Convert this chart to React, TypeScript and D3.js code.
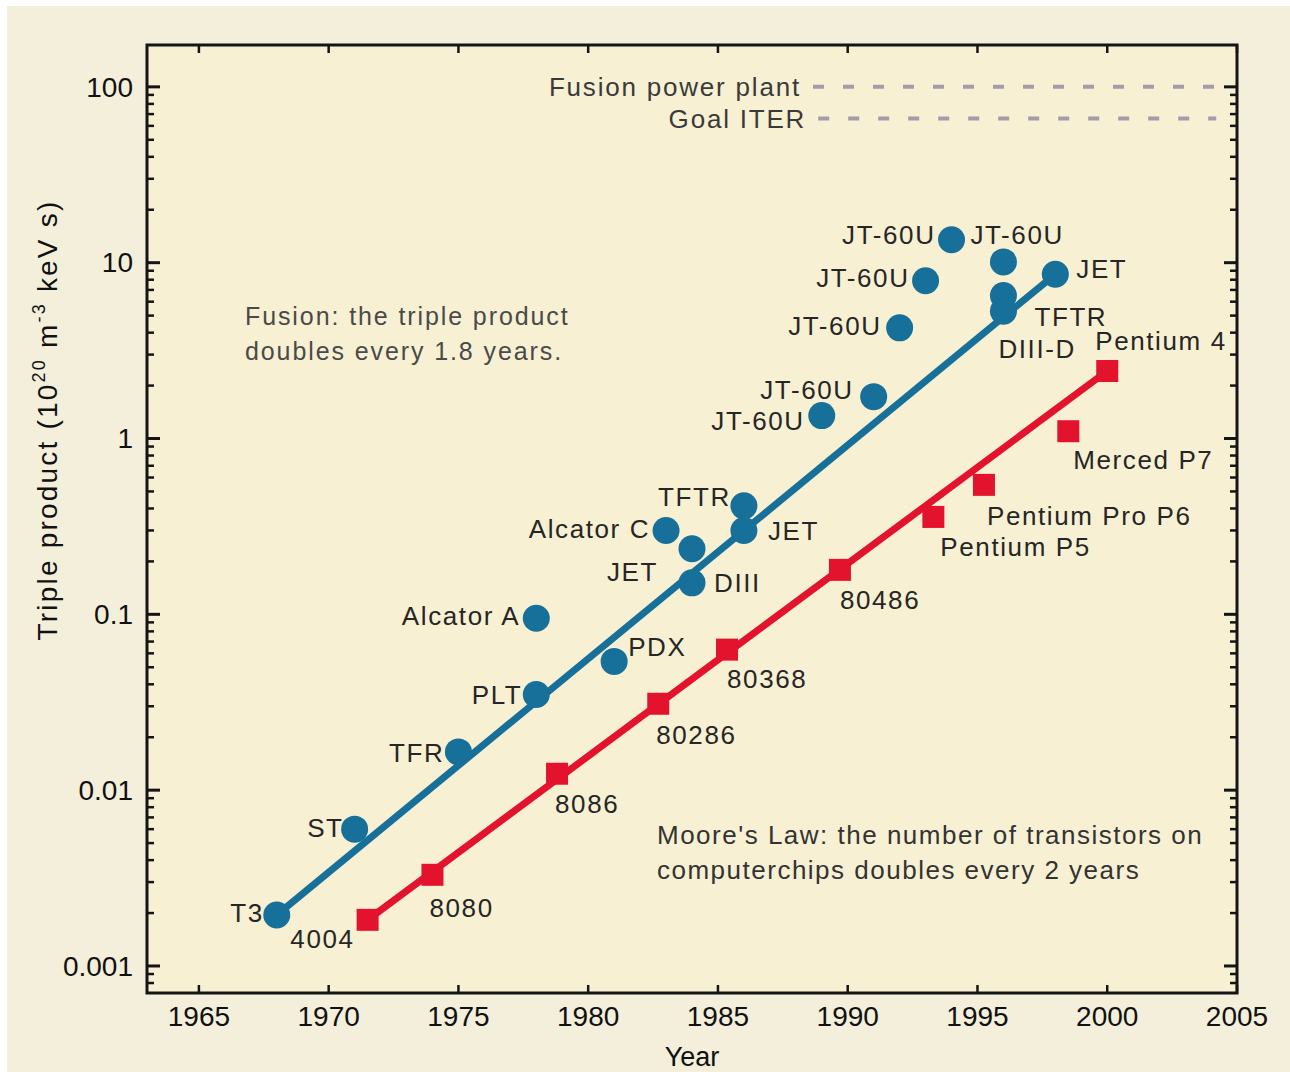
import * as d3 from 'd3';

// Fusion experiments (blue circles)
const fusionNames = ['T3', 'ST', 'TFR', 'PLT', 'Alcator A', 'PDX', 'Alcator C', 'JET', 'DIII', 'TFTR', 'JET',
  'JT-60U', 'JT-60U', 'JT-60U', 'JT-60U', 'JT-60U', 'JT-60U', 'TFTR', 'DIII-D', 'JET'];
const fusionYears = [1968, 1971, 1975, 1978, 1978, 1981, 1983, 1984, 1984, 1986, 1986,
  1989, 1991, 1992, 1993, 1994, 1996, 1996, 1996, 1998];
const fusionValues = [0.00195, 0.006, 0.0165, 0.035, 0.095, 0.054, 0.30, 0.236, 0.151, 0.414, 0.30,
  1.35, 1.73, 4.26, 7.9, 13.5, 10.1, 6.5, 5.3, 8.6];

// Intel processors (red squares); "80368" is written as in the source
const chipNames = ['4004', '8080', '8086', '80286', '80368', '80486', 'Pentium P5', 'Pentium Pro P6', 'Merced P7', 'Pentium 4'];
const chipYears = [1971.5, 1974, 1978.8, 1982.7, 1985.35, 1989.7, 1993.3, 1995.25, 1998.5, 2000];
const chipValues = [0.00183, 0.0033, 0.0124, 0.031, 0.063, 0.179, 0.358, 0.545, 1.1, 2.42];

const goalNames = ['Fusion power plant', 'Goal ITER'];
const goalValues = [100, 66];

const xTicks = [1965, 1970, 1975, 1980, 1985, 1990, 1995, 2000, 2005];
const yTicks = [0.001, 0.01, 0.1, 1, 10, 100];
const yTickLabels = ['0.001', '0.01', '0.1', '1', '10', '100'];

// label placement relative to the marker: [anchor, dx, dy]
const fusionLabelPos: [string, number, number][] = [
  ['end', -13, -2], ['end', -11, -1], ['end', -14, 1], ['end', -14, 0], ['end', -16, -2],
  ['start', 14, -14], ['end', -16, -2], ['end', -34, 23], ['start', 22, 0], ['end', -13, -9],
  ['start', 24, 0], ['end', -17, 5], ['end', -20, -7], ['end', -18, -2], ['end', -16, -3],
  ['end', -16, -5], ['start', -33, -27], ['start', 31, 21], ['start', -5, 38], ['start', 21, -5],
];
const chipLabelPos: [string, number, number][] = [
  ['end', -13, 19], ['start', -3, 33], ['start', -2, 30], ['start', -2, 31], ['start', 0, 29],
  ['start', 0, 30], ['start', 7, 30], ['start', 3, 31], ['start', 5, 29], ['start', -12, -30],
];

const W = 1290;
const H = 1072;
const left = 147, right = 1237, top = 45, bottom = 993;
const FONT = '"Liberation Sans", Arial, Helvetica, sans-serif';
const BLUE = '#17709a';
const RED = '#e3132d';
const TEXT = '#262626';

export default function App() {
  const x = d3.scaleLinear().domain([1963, 2005]).range([left, right]);
  const y = d3.scaleLog().domain([0.000702, 173]).range([bottom, top]);

  const minorTicks: number[] = [];
  [0.0001, 0.001, 0.01, 0.1, 1, 10, 100].forEach((d) => {
    for (let k = 2; k <= 9; k++) {
      const v = k * d;
      if (v > 0.000702 && v < 173) minorTicks.push(v);
    }
  });

  const line = d3.line<[number, number]>().x((d) => x(d[0])).y((d) => y(d[1]));
  const fusionTrend: [number, number][] = [
    [fusionYears[0], fusionValues[0]],
    [fusionYears[fusionYears.length - 1], fusionValues[fusionValues.length - 1]],
  ];
  const chipTrend: [number, number][] = [
    [chipYears[0], chipValues[0]],
    [chipYears[chipYears.length - 1], chipValues[chipValues.length - 1]],
  ];

  const goalTextEnd = [x(1988.2), x(1988.4)];

  return (
    <svg width={W} height={H} style={{ position: 'absolute', left: 0, top: 0 }} fontFamily={FONT}>
      <rect x={0} y={0} width={W} height={H} fill="#ffffff" />
      <rect x={7} y={6} width={W - 7} height={H - 6} fill="#f3efdb" />
      <rect x={left} y={top} width={right - left} height={bottom - top} fill="#f7f0d3" />

      {/* goal lines */}
      {goalNames.map((g, i) => (
        <g key={g}>
          <text x={goalTextEnd[i]} y={y(goalValues[i])} dy="0.35em" textAnchor="end"
            fontSize={26} letterSpacing={1.8} fill="#3a3a3a">{g}</text>
          <line x1={goalTextEnd[i] + 12} x2={x(2004.2)} y1={y(goalValues[i])} y2={y(goalValues[i])}
            stroke="#a49bab" strokeWidth={4} strokeDasharray="11 19" />
        </g>
      ))}

      {/* trend lines */}
      <path d={line(fusionTrend) || ''} stroke={BLUE} strokeWidth={7} fill="none" />
      <path d={line(chipTrend) || ''} stroke={RED} strokeWidth={7} fill="none" />

      {/* markers */}
      {fusionYears.map((yr, i) => (
        <circle key={'f' + i} cx={x(yr)} cy={y(fusionValues[i])} r={13.5} fill={BLUE} />
      ))}
      {chipYears.map((yr, i) => (
        <rect key={'c' + i} x={x(yr) - 11} y={y(chipValues[i]) - 11} width={22} height={22} fill={RED} />
      ))}

      {/* point labels */}
      {fusionNames.map((n, i) => (
        <text key={'fl' + i} x={x(fusionYears[i]) + fusionLabelPos[i][1]} y={y(fusionValues[i]) + fusionLabelPos[i][2]}
          dy="0.35em" textAnchor={fusionLabelPos[i][0]} fontSize={26} letterSpacing={1.6} fill={TEXT}>{n}</text>
      ))}
      {chipNames.map((n, i) => (
        <text key={'cl' + i} x={x(chipYears[i]) + chipLabelPos[i][1]} y={y(chipValues[i]) + chipLabelPos[i][2]}
          dy="0.35em" textAnchor={chipLabelPos[i][0]} fontSize={26} letterSpacing={1.6} fill={TEXT}>{n}</text>
      ))}

      {/* annotations */}
      <text x={245} y={325} fontSize={25} letterSpacing={1.9} fill="#4a4a4a">
        <tspan x={245}>Fusion: the triple product</tspan>
        <tspan x={245} dy={35}>doubles every 1.8 years.</tspan>
      </text>
      <text x={657} y={844} fontSize={26} letterSpacing={1.5} fill="#333">
        <tspan x={657}>Moore's Law: the number of transistors on</tspan>
        <tspan x={657} dy={35}>computerchips doubles every 2 years</tspan>
      </text>

      {/* frame */}
      <rect x={left} y={top} width={right - left} height={bottom - top} fill="none" stroke="#151515" strokeWidth={3} />

      {/* y ticks */}
      {yTicks.map((t, i) => (
        <g key={'yt' + t}>
          <line x1={left} x2={left + 13} y1={y(t)} y2={y(t)} stroke="#151515" strokeWidth={3} />
          <line x1={right} x2={right - 13} y1={y(t)} y2={y(t)} stroke="#151515" strokeWidth={3} />
          <text x={133} y={y(t)} dy="0.35em" textAnchor="end" fontSize={28} fill="#111">{yTickLabels[i]}</text>
        </g>
      ))}
      {minorTicks.map((t) => (
        <g key={'ym' + t}>
          <line x1={left} x2={left + 7} y1={y(t)} y2={y(t)} stroke="#151515" strokeWidth={2.5} />
          <line x1={right} x2={right - 7} y1={y(t)} y2={y(t)} stroke="#151515" strokeWidth={2.5} />
        </g>
      ))}

      {/* x ticks */}
      {xTicks.map((t) => (
        <g key={'xt' + t}>
          <line x1={x(t)} x2={x(t)} y1={bottom} y2={bottom - 8} stroke="#151515" strokeWidth={2.5} />
          <line x1={x(t)} x2={x(t)} y1={top} y2={top + 8} stroke="#151515" strokeWidth={2.5} />
          <text x={x(t)} y={1026} textAnchor="middle" fontSize={28} fill="#111">{t}</text>
        </g>
      ))}

      {/* axis titles */}
      <text x={(left + right) / 2} y={1066} textAnchor="middle" fontSize={27} fill="#111">Year</text>
      <text transform={`translate(57,420) rotate(-90)`} textAnchor="middle" fontSize={28} letterSpacing={2.2} fill="#111">
        Triple product (10<tspan fontSize={18} dy={-12}>20</tspan><tspan dy={12}> m</tspan>
        <tspan fontSize={18} dy={-12}>-3</tspan><tspan dy={12}> keV s)</tspan>
      </text>
    </svg>
  );
}
